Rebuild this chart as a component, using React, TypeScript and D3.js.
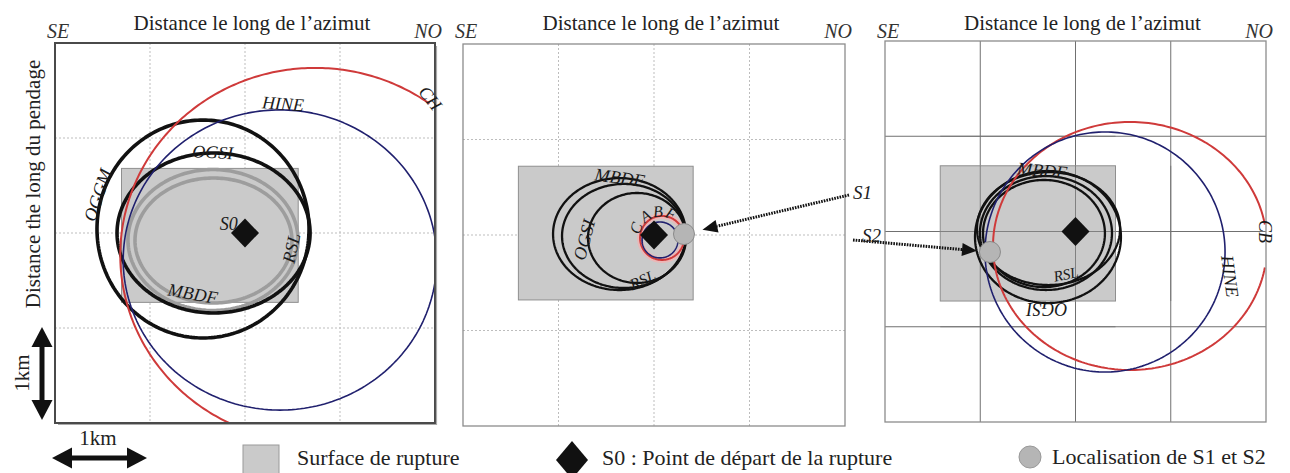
import React from "react";
import * as d3 from "d3";

// ---------- text ----------
const TITLE = "Distance le long de l’azimut";
const Y_LABEL = "Distance the long du pendage";
const STRIKE_ENDS = ["SE", "NO"];
const SCALE_LABEL = "1km";
const LEGEND_TEXT = [
  "Surface de rupture",
  "S0 : Point de départ de la rupture",
  "Localisation de S1 et S2",
];

// ---------- axes (km, origin at the nucleation point S0) ----------
const DOMAIN_KM: [number, number] = [-2, 2];
const GRID_KM = [-1, 0, 1];

type Tone = "red" | "blue" | "black" | "gray";
interface Curve {
  key: string;
  tone: Tone;
  cx: number;
  cy: number;
  rx: number;
  ry: number;
  a0?: number;
  a1?: number;
}
interface Rupture { x0: number; x1: number; y0: number; y1: number }
interface Label { text: string; x: number; y: number; rot: number; size?: number }

// x: km along strike, y: km up-dip
const curvesA: Curve[] = [
  { key: "RSL", tone: "gray", cx: -0.337, cy: -0.074, rx: 0.895, ry: 0.742 },
  { key: "MBDF", tone: "gray", cx: -0.332, cy: -0.079, rx: 0.826, ry: 0.658 },
  { key: "OGGM", tone: "black", cx: -0.442, cy: 0.042, rx: 1.116, ry: 1.147 },
  { key: "OGSI", tone: "black", cx: -0.331, cy: 0, rx: 1.016, ry: 0.842 },
  { key: "HINE", tone: "blue", cx: 0.368, cy: -0.284, rx: 1.65, ry: 1.58 },
  { key: "CH", tone: "red", cx: 0.737, cy: -0.232, rx: 2.05, ry: 1.97, a0: 54, a1: 262 },
];
const curvesB: Curve[] = [
  { key: "MBDF", tone: "black", cx: -0.361, cy: 0.01, rx: 0.696, ry: 0.586 },
  { key: "OGSI", tone: "black", cx: -0.314, cy: -0.01, rx: 0.649, ry: 0.545 },
  { key: "RSL", tone: "black", cx: -0.178, cy: -0.031, rx: 0.513, ry: 0.471 },
  { key: "CABF", tone: "red", cx: 0.084, cy: -0.031, rx: 0.23, ry: 0.23 },
  { key: "HINE", tone: "blue", cx: 0.063, cy: -0.052, rx: 0.188, ry: 0.188 },
];
const curvesC: Curve[] = [
  { key: "OGSI", tone: "black", cx: -0.289, cy: -0.058, rx: 0.766, ry: 0.693 },
  { key: "MBDF", tone: "black", cx: -0.283, cy: 0.031, rx: 0.751, ry: 0.593 },
  { key: "c3", tone: "black", cx: -0.31, cy: -0.016, rx: 0.693, ry: 0.598 },
  { key: "RSL", tone: "black", cx: -0.331, cy: -0.021, rx: 0.64, ry: 0.562 },
  { key: "CB", tone: "red", cx: 0.572, cy: -0.152, rx: 1.438, ry: 1.302, a0: 10, a1: 350 },
  { key: "HINE", tone: "blue", cx: 0.31, cy: -0.215, rx: 1.26, ry: 1.26 },
];

const ruptureA: Rupture = { x0: -1.3, x1: 0.56, y0: -0.73, y1: 0.68 };
const ruptureB: Rupture = { x0: -1.42, x1: 0.41, y0: -0.68, y1: 0.72 };
const ruptureC: Rupture = { x0: -1.42, x1: 0.42, y0: -0.73, y1: 0.69 };

const S0 = { x: 0, y: 0 };
const S1 = { x: 0.314, y: 0.01 };
const S2 = { x: -0.898, y: -0.215 };

const labelsA: Label[] = [
  { text: "CH", x: 1.95, y: 1.42, rot: 52 },
  { text: "HINE", x: 0.4, y: 1.36, rot: 4 },
  { text: "OGGM", x: -1.55, y: 0.4, rot: -72 },
  { text: "OGSI", x: -0.34, y: 0.85, rot: 3 },
  { text: "S0", x: -0.17, y: 0.1, rot: 0 },
  { text: "RSL", x: 0.49, y: -0.16, rot: -78 },
  { text: "MBDF", x: -0.55, y: -0.64, rot: 10 },
];
const labelsB: Label[] = [
  { text: "MBDF", x: -0.36, y: 0.6, rot: 8 },
  { text: "OGSI", x: -0.73, y: -0.05, rot: -75 },
  { text: "RSL", x: -0.12, y: -0.47, rot: -25, size: 16 },
];
const labelsC: Label[] = [
  { text: "MBDF", x: -0.35, y: 0.64, rot: 5 },
  { text: "RSL", x: -0.1, y: -0.45, rot: -12, size: 15 },
  { text: "OGSI", x: -0.3, y: -0.81, rot: 180 },
  { text: "HINE", x: 1.62, y: -0.47, rot: 82 },
  { text: "CB", x: 1.99, y: -0.0, rot: 90 },
];
// letters of CABF laid around the small red front
const arcLetters = ["C", "A", "B", "F"];
const arcAngles = [160, 125, 95, 65];

const SERIF = "'Liberation Serif', 'Times New Roman', serif";

function toneStyle(t: Tone, heavy: boolean) {
  switch (t) {
    case "red":
      return { stroke: "#cf3a3a", w: 2 };
    case "blue":
      return { stroke: "#20206e", w: 1.6 };
    case "gray":
      return { stroke: "#9d9d9d", w: 3.6 };
    default:
      return { stroke: "#111", w: heavy ? 3.6 : 2.3 };
  }
}

function ellipsePath(c: Curve, xs: d3.ScaleLinear<number, number>, ys: d3.ScaleLinear<number, number>) {
  const closed = c.a0 === undefined;
  const a0 = c.a0 ?? 0;
  const a1 = c.a1 ?? 360;
  const n = 240;
  const pts: [number, number][] = d3.range(closed ? n : n + 1).map((i) => {
    const t = ((a0 + ((a1 - a0) * i) / n) * Math.PI) / 180;
    return [xs(c.cx + c.rx * Math.cos(t)), ys(c.cy + c.ry * Math.sin(t))];
  });
  const gen = d3.line().curve(closed ? d3.curveLinearClosed : d3.curveLinear);
  return gen(pts) || "";
}

function diamond(cx: number, cy: number, hw: number, hh: number) {
  return `M${cx},${cy - hh}L${cx + hw},${cy}L${cx},${cy + hh}L${cx - hw},${cy}Z`;
}

function DottedArrow({ tail, target, gap }: { tail: [number, number]; target: [number, number]; gap: number }) {
  const dx = target[0] - tail[0];
  const dy = target[1] - tail[1];
  const len = Math.hypot(dx, dy);
  const ux = dx / len;
  const uy = dy / len;
  const tip: [number, number] = [target[0] - ux * gap, target[1] - uy * gap];
  const base: [number, number] = [tip[0] - ux * 15, tip[1] - uy * 15];
  const px = -uy;
  const py = ux;
  return (
    <g>
      <line x1={tail[0]} y1={tail[1]} x2={base[0]} y2={base[1]} stroke="#111" strokeWidth={3} strokeDasharray="1.6 1.1" />
      <path
        d={`M${tip[0]},${tip[1]}L${base[0] + px * 6.5},${base[1] + py * 6.5}L${base[0] - px * 6.5},${base[1] - py * 6.5}Z`}
        fill="#111"
      />
    </g>
  );
}

interface PanelSpec {
  id: string;
  left: number;
  top: number;
  size: number;
  curves: Curve[];
  rupture: Rupture;
  labels: Label[];
  solidGrid: boolean;
  frame: string;
  frameW: number;
  heavy: boolean;
}

const panels: PanelSpec[] = [
  { id: "a", left: 55, top: 43, size: 380, curves: curvesA, rupture: ruptureA, labels: labelsA, solidGrid: false, frame: "#4a4a4a", frameW: 2, heavy: true },
  { id: "b", left: 463, top: 44, size: 382, curves: curvesB, rupture: ruptureB, labels: labelsB, solidGrid: false, frame: "#8c8c8c", frameW: 1.3, heavy: false },
  { id: "c", left: 885, top: 41, size: 381, curves: curvesC, rupture: ruptureC, labels: labelsC, solidGrid: true, frame: "#8c8c8c", frameW: 1.3, heavy: false },
];

function Panel({ p }: { p: PanelSpec }) {
  const xs = d3.scaleLinear().domain(DOMAIN_KM).range([p.left, p.left + p.size]);
  const ys = d3.scaleLinear().domain(DOMAIN_KM).range([p.top + p.size, p.top]);
  const right = p.left + p.size;
  const bottom = p.top + p.size;
  const cx = (p.left + right) / 2;
  const gridStroke = p.solidGrid ? "#707070" : "#bdbdbd";
  const gridDash = p.solidGrid ? undefined : "2 2";
  const o = ys(S0.y);
  const r = p.rupture;
  const redCurve = p.curves.find((c) => c.key === "CABF");

  return (
    <g>
      <defs>
        <clipPath id={`clip-${p.id}`}>
          <rect x={p.left} y={p.top} width={p.size} height={p.size} />
        </clipPath>
      </defs>
      <rect x={p.left} y={p.top} width={p.size} height={p.size} fill="#fff" />
      {GRID_KM.map((g) => (
        <g key={g}>
          <line x1={xs(g)} x2={xs(g)} y1={p.top} y2={bottom} stroke={gridStroke} strokeWidth={1} strokeDasharray={gridDash} />
          <line x1={p.left} x2={right} y1={ys(g)} y2={ys(g)} stroke={gridStroke} strokeWidth={1} strokeDasharray={gridDash} />
        </g>
      ))}
      <rect
        x={xs(r.x0)}
        y={ys(r.y1)}
        width={xs(r.x1) - xs(r.x0)}
        height={ys(r.y0) - ys(r.y1)}
        fill="#cacaca"
        stroke="#8f8f8f"
        strokeWidth={1}
      />
      {p.solidGrid &&
        GRID_KM.map((g) => (
          <g key={`o${g}`}>
            <line x1={xs(g)} x2={xs(g)} y1={ys(r.y1)} y2={ys(r.y0)} stroke="#707070" strokeWidth={1} opacity={0.8} />
            <line x1={xs(r.x0)} x2={xs(r.x1)} y1={ys(g)} y2={ys(g)} stroke="#707070" strokeWidth={1} opacity={0.8} />
          </g>
        ))}
      <g clipPath={`url(#clip-${p.id})`} fill="none">
        {p.id === "b" && redCurve && (
          <path d={ellipsePath(redCurve, xs, ys)} stroke="#f2b3b3" strokeWidth={6} opacity={0.8} />
        )}
        {p.curves.map((c, i) => {
          const st = toneStyle(c.tone, p.heavy);
          return <path key={i} d={ellipsePath(c, xs, ys)} stroke={st.stroke} strokeWidth={st.w} strokeLinejoin="round" />;
        })}
      </g>
      <path d={diamond(xs(S0.x), o, 14, 14.5)} fill="#111" />
      {p.id === "b" && <circle cx={xs(S1.x)} cy={ys(S1.y)} r={10.5} fill="#b5b5b5" stroke="#8a8a8a" strokeWidth={1} />}
      {p.id === "c" && <circle cx={xs(S2.x)} cy={ys(S2.y)} r={10.5} fill="#b5b5b5" stroke="#8a8a8a" strokeWidth={1} />}
      <rect x={p.left} y={p.top} width={p.size} height={p.size} fill="none" stroke={p.frame} strokeWidth={p.frameW} />
      {p.id === "a" && (
        <path d={`M${right + 1.5},${p.top + 3}V${bottom + 1.5}H${p.left + 3}`} fill="none" stroke="#aaa" strokeWidth={1.2} />
      )}
      {p.labels.map((l, i) => (
        <text
          key={i}
          transform={`translate(${xs(l.x)},${ys(l.y)}) rotate(${l.rot})`}
          textAnchor="middle"
          dominantBaseline="central"
          fontFamily={SERIF}
          fontStyle="italic"
          fontSize={l.size ?? 18}
          fill="#1a1a1a"
        >
          {l.text}
        </text>
      ))}
      {p.id === "b" &&
        redCurve &&
        arcLetters.map((ch, i) => {
          const a = (arcAngles[i] * Math.PI) / 180;
          const rr = 0.27;
          const lx = xs(redCurve.cx - 0.02 + rr * Math.cos(a));
          const ly = ys(redCurve.cy + 0.01 + rr * Math.sin(a));
          return (
            <text
              key={ch}
              transform={`translate(${lx},${ly}) rotate(${90 - arcAngles[i]})`}
              textAnchor="middle"
              dominantBaseline="central"
              fontFamily={SERIF}
              fontStyle="italic"
              fontSize={16}
              fill="#1a1a1a"
            >
              {ch}
            </text>
          );
        })}
      <text x={cx + 7} y={30} textAnchor="middle" fontFamily={SERIF} fontSize={21} fill="#222">
        {TITLE}
      </text>
      <text x={p.left - 8} y={38} fontFamily={SERIF} fontStyle="italic" fontSize={20} fill="#333">
        {STRIKE_ENDS[0]}
      </text>
      <text x={right + 7} y={38} textAnchor="end" fontFamily={SERIF} fontStyle="italic" fontSize={20} fill="#333">
        {STRIKE_ENDS[1]}
      </text>
    </g>
  );
}

function DoubleArrow({ x1, y1, x2, y2 }: { x1: number; y1: number; x2: number; y2: number }) {
  const len = Math.hypot(x2 - x1, y2 - y1);
  const ux = (x2 - x1) / len;
  const uy = (y2 - y1) / len;
  const px = -uy;
  const py = ux;
  const head = 20;
  const hw = 10.5;
  const head1 = `M${x1},${y1}L${x1 + ux * head + px * hw},${y1 + uy * head + py * hw}L${x1 + ux * head - px * hw},${y1 + uy * head - py * hw}Z`;
  const head2 = `M${x2},${y2}L${x2 - ux * head + px * hw},${y2 - uy * head + py * hw}L${x2 - ux * head - px * hw},${y2 - uy * head - py * hw}Z`;
  return (
    <g fill="#111">
      <line x1={x1 + ux * head * 0.8} y1={y1 + uy * head * 0.8} x2={x2 - ux * head * 0.8} y2={y2 - uy * head * 0.8} stroke="#111" strokeWidth={5} />
      <path d={head1} />
      <path d={head2} />
    </g>
  );
}

export default function App() {
  const pb = panels[1];
  const pc = panels[2];
  const xsB = d3.scaleLinear().domain(DOMAIN_KM).range([pb.left, pb.left + pb.size]);
  const ysB = d3.scaleLinear().domain(DOMAIN_KM).range([pb.top + pb.size, pb.top]);
  const xsC = d3.scaleLinear().domain(DOMAIN_KM).range([pc.left, pc.left + pc.size]);
  const ysC = d3.scaleLinear().domain(DOMAIN_KM).range([pc.top + pc.size, pc.top]);

  return (
    <svg
      width={1290}
      height={473}
      viewBox="0 0 1290 473"
      style={{ position: "absolute", left: 0, top: 0, background: "#fff" }}
    >
      <rect width={1290} height={473} fill="#fff" />
      {panels.map((p) => (
        <Panel key={p.id} p={p} />
      ))}

      {/* pointers towards S1 and S2 */}
      <DottedArrow tail={[849, 195]} target={[xsB(S1.x), ysB(S1.y)]} gap={19} />
      <text x={853} y={199} fontFamily={SERIF} fontStyle="italic" fontSize={19} fill="#222">S1</text>
      <DottedArrow tail={[853, 240]} target={[xsC(S2.x), ysC(S2.y)]} gap={13} />
      <text x={862} y={242} fontFamily={SERIF} fontStyle="italic" fontSize={19} fill="#222">S2</text>

      {/* vertical axis title */}
      <text
        transform="translate(40,184) rotate(-90)"
        textAnchor="middle"
        fontFamily={SERIF}
        fontSize={21}
        fill="#222"
      >
        {Y_LABEL}
      </text>

      {/* 1 km scale bars */}
      <DoubleArrow x1={42} y1={327} x2={42} y2={420} />
      <text transform="translate(29,373) rotate(-90)" textAnchor="middle" fontFamily={SERIF} fontSize={21} fill="#222">
        {SCALE_LABEL}
      </text>
      <DoubleArrow x1={52} y1={458} x2={147} y2={458} />
      <text x={98} y={445} textAnchor="middle" fontFamily={SERIF} fontSize={21} fill="#222">
        {SCALE_LABEL}
      </text>

      {/* legend */}
      <rect x={243} y={445} width={36} height={30} fill="#cacaca" stroke="#9a9a9a" strokeWidth={1} />
      <text x={297} y={465} fontFamily={SERIF} fontSize={22} fill="#222">{LEGEND_TEXT[0]}</text>
      <path d={diamond(572, 460, 16, 19)} fill="#111" />
      <text x={602} y={465} fontFamily={SERIF} fontSize={22} fill="#222">{LEGEND_TEXT[1]}</text>
      <circle cx={1030} cy={457} r={11} fill="#b5b5b5" stroke="#999" strokeWidth={1} />
      <text x={1052} y={464} fontFamily={SERIF} fontSize={22} fill="#222">{LEGEND_TEXT[2]}</text>
    </svg>
  );
}
